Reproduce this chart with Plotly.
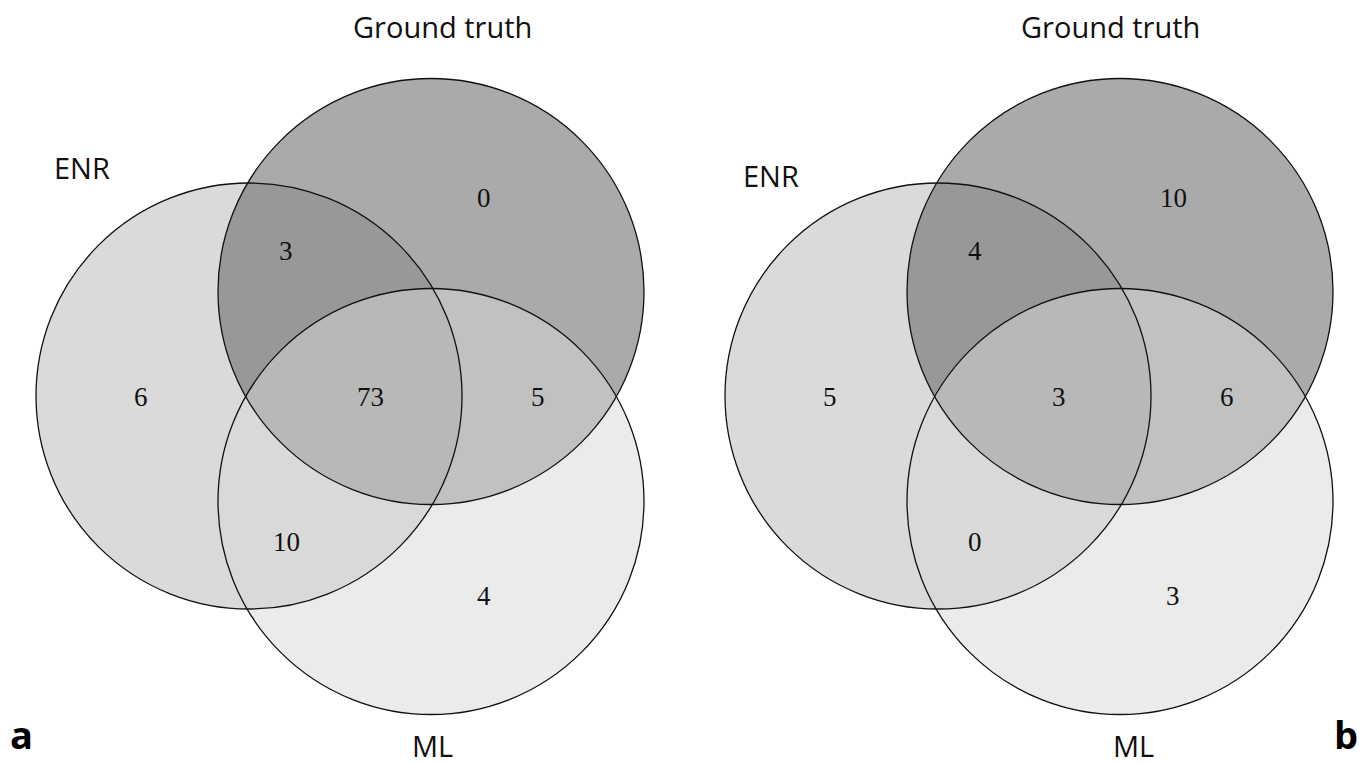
import plotly.graph_objects as go

# Set names and the count in each Venn region
set_names = ["ENR", "Ground truth", "ML"]
region_keys = ["ENR only", "GT only", "ML only", "ENR&GT", "ENR&ML", "GT&ML", "ENR&GT&ML"]
counts_a = [6, 0, 4, 3, 10, 5, 73]
counts_b = [5, 10, 3, 4, 0, 6, 3]
panel_tags = ["a", "b"]

W, H = 1371, 764
R = 213
# circle centres for panel a (pixel space); panel b is shifted right
CENTRES = {"ENR": (249, 396), "Ground truth": (431, 291.5), "ML": (431, 501.5)}
FILLS = {"ENR": "rgba(181,181,181,0.5)",
         "Ground truth": "rgba(85,85,85,0.5)",
         "ML": "rgba(215,215,215,0.5)"}
REGION_POS = {"ENR only": (141, 397), "GT only": (484, 198), "ML only": (484, 596),
              "ENR&GT": (286, 251), "ENR&ML": (286, 542), "GT&ML": (538, 397),
              "ENR&GT&ML": (370, 397)}

fig = go.Figure()
shapes, annotations = [], []


def add_panel(counts, dx, set_label_pos, tag, tag_x):
    # translucent fills first
    for name in set_names:
        cx, cy = CENTRES[name]
        shapes.append(dict(type="circle", xref="x", yref="y",
                           x0=cx + dx - R, x1=cx + dx + R, y0=cy - R, y1=cy + R,
                           fillcolor=FILLS[name], line=dict(width=0), layer="below"))
    # outlines on top
    for name in set_names:
        cx, cy = CENTRES[name]
        shapes.append(dict(type="circle", xref="x", yref="y",
                           x0=cx + dx - R, x1=cx + dx + R, y0=cy - R, y1=cy + R,
                           fillcolor="rgba(0,0,0,0)", line=dict(color="#111", width=1.3),
                           layer="above"))
    for key, val in zip(region_keys, counts):
        px, py = REGION_POS[key]
        annotations.append(dict(x=px + dx, y=py, text=str(val), showarrow=False,
                                xref="x", yref="y", xanchor="center", yanchor="middle",
                                font=dict(family="Liberation Serif", size=27, color="#111")))
    for name in set_names:
        px, py = set_label_pos[name]
        annotations.append(dict(x=px, y=py, text=name, showarrow=False,
                                xref="x", yref="y", xanchor="center", yanchor="middle",
                                font=dict(family="Open Sans", size=29, color="#111")))
    annotations.append(dict(x=tag_x, y=H - 2, text="<b>%s</b>" % tag,
                            showarrow=False, xref="x", yref="y",
                            xanchor="center", yanchor="bottom",
                            font=dict(family="Open Sans", size=38, color="#000")))


add_panel(counts_a, 0,
          {"ENR": (82, 167), "Ground truth": (442, 26), "ML": (432, 745)},
          panel_tags[0], 21)
add_panel(counts_b, 689,
          {"ENR": (771, 175), "Ground truth": (1110, 26), "ML": (1133, 745)},
          panel_tags[1], 1346)

fig.update_layout(
    width=W, height=H,
    margin=dict(l=0, r=0, t=0, b=0),
    paper_bgcolor="white", plot_bgcolor="white",
    shapes=shapes, annotations=annotations,
    showlegend=False,
    xaxis=dict(range=[0, W], visible=False, showgrid=False, zeroline=False, fixedrange=True),
    yaxis=dict(range=[H, 0], visible=False, showgrid=False, zeroline=False, fixedrange=True),
)

fig.write_html("out.html", config={"displayModeBar": False})
